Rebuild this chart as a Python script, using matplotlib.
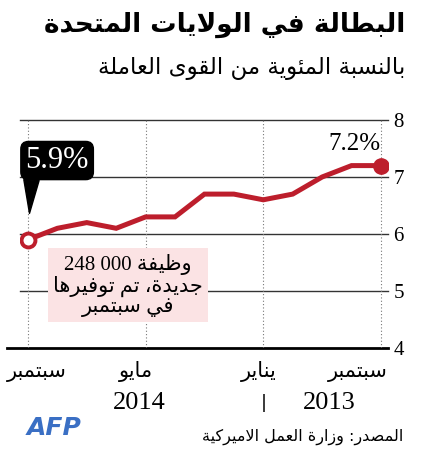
import re
import matplotlib.pyplot as plt

# Données : taux de chômage, de septembre 2013 (0) à septembre 2014 (12)
months = list(range(13))
rate = [7.2, 7.2, 7.0, 6.7, 6.6, 6.7, 6.7, 6.3, 6.3, 6.1, 6.2, 6.1, 5.9]
tick_months = [0, 4, 8, 12]
tick_labels = ['سبتمبر', 'يناير', 'مايو', 'سبتمبر']
y_ticks = [4, 5, 6, 7, 8]
years = ['2013', '2014']

title = 'البطالة في الولايات المتحدة'
subtitle = 'بالنسبة المئوية من القوى العاملة'
note = 'وظيفة 248 000\nجديدة، تم توفيرها\nفي سبتمبر'
source = 'المصدر: وزارة العمل الاميركية'

RED = '#bd1e2c'
PINK = '#fbe3e4'
SERIF = 'Liberation Serif'
MIXED = ['Liberation Serif', 'DejaVu Sans']

# formes contextuelles arabes (Presentation Forms-B)
FOUR = {'ئ': 0xFE89, 'ب': 0xFE8F, 'ت': 0xFE95, 'ث': 0xFE99, 'ج': 0xFE9D,
        'ح': 0xFEA1, 'خ': 0xFEA5, 'س': 0xFEB1, 'ش': 0xFEB5, 'ص': 0xFEB9,
        'ض': 0xFEBD, 'ط': 0xFEC1, 'ظ': 0xFEC5, 'ع': 0xFEC9, 'غ': 0xFECD,
        'ف': 0xFED1, 'ق': 0xFED5, 'ك': 0xFED9, 'ل': 0xFEDD, 'م': 0xFEE1,
        'ن': 0xFEE5, 'ه': 0xFEE9, 'ي': 0xFEF1}
TWO = {'آ': 0xFE81, 'أ': 0xFE83, 'ؤ': 0xFE85, 'إ': 0xFE87, 'ا': 0xFE8D,
       'ة': 0xFE93, 'د': 0xFEA9, 'ذ': 0xFEAB, 'ر': 0xFEAD, 'ز': 0xFEAF,
       'و': 0xFEED, 'ى': 0xFEEF}
LAM_ALEF = {'ا': 0xFEFB, 'أ': 0xFEF7, 'إ': 0xFEF9, 'آ': 0xFEF5}


def shape_line(text):
    toks = []
    i = 0
    while i < len(text):
        if text[i] == 'ل' and i + 1 < len(text) and text[i + 1] in LAM_ALEF:
            toks.append(('LA', text[i + 1]))
            i += 2
        else:
            toks.append(('C', text[i]))
            i += 1

    def dual(t):
        return t[0] == 'C' and t[1] in FOUR

    def letter(t):
        return t[0] == 'LA' or t[1] in FOUR or t[1] in TWO

    out = []
    for k, t in enumerate(toks):
        pj = k > 0 and dual(toks[k - 1]) and letter(t)
        nj = dual(t) and k + 1 < len(toks) and letter(toks[k + 1])
        if t[0] == 'LA':
            out.append(chr(LAM_ALEF[t[1]] + (1 if pj else 0)))
        elif t[1] in FOUR:
            b = FOUR[t[1]]
            out.append(chr(b + (3 if pj and nj else 1 if pj else 2 if nj else 0)))
        elif t[1] in TWO:
            out.append(chr(TWO[t[1]] + (1 if pj else 0)))
        else:
            out.append(t[1])
    runs = re.findall(r'[0-9A-Za-z%.]+(?: [0-9]+)*|.', ''.join(out))
    return ''.join(reversed(runs))


def ar(text):
    return '\n'.join(shape_line(l) for l in text.split('\n'))


fig = plt.figure(figsize=(4.24, 4.5), dpi=100)
ax = fig.add_axes([20 / 424, 1 - 348 / 450, 368 / 424, 228 / 450])
ax.set_xlim(12.27, -0.24)
ax.set_ylim(4, 8)

for v in y_ticks[1:]:
    ax.axhline(v, color='#333333', lw=1, zorder=1, clip_on=False)
ax.axhline(4, xmin=-0.035, xmax=1, color='black', lw=2, zorder=1, clip_on=False)
for m in tick_months:
    ax.axvline(m, color='#777777', lw=0.8, ls=(0, (1, 2)), zorder=1)

for s in ax.spines.values():
    s.set_visible(False)
ax.set_xticks([])
ax.yaxis.tick_right()
ax.set_yticks(y_ticks)
ax.tick_params(axis='y', length=0, pad=4, labelsize=15)
for lab in ax.get_yticklabels():
    lab.set_fontfamily(SERIF)

ax.plot(months, rate, color=RED, lw=3.6, solid_joinstyle='miter', zorder=3)
ax.plot(months[0], rate[0], 'o', ms=11, color=RED, zorder=4)
ax.plot(months[-1], rate[-1], 'o', ms=10, mfc='white', mec=RED, mew=2.8, zorder=4)

ax.annotate('%.1f%%' % rate[0], xy=(months[0], rate[0]), xytext=(0, 11),
            textcoords='offset points', ha='right', va='baseline',
            fontsize=18, family=SERIF)
ax.annotate('%.1f%%' % rate[-1], xy=(months[-1], rate[-1]), xytext=(21, 57),
            textcoords='offset points', ha='center', va='center',
            fontsize=22, family=SERIF, color='white', zorder=5,
            bbox=dict(boxstyle='round,pad=0.15,rounding_size=0.25', fc='black', ec='black'),
            arrowprops=dict(arrowstyle='wedge,tail_width=0.5,shrink_factor=0.5',
                            fc='black', ec='black', relpos=(0.1, 0.0),
                            shrinkA=0, shrinkB=19))

ax.text(8.6, 5.1, ar(note), ha='center', va='center', fontsize=15,
        family=MIXED, linespacing=1.08, zorder=2,
        bbox=dict(boxstyle='square,pad=0.25', fc=PINK, ec='none'))

aligns = ['right', 'center', 'center', 'left']
shifts = [5, -3, -7, -15]
for m, lab, ha, dx in zip(tick_months, tick_labels, aligns, shifts):
    ax.annotate(ar(lab), xy=(m, 0), xycoords=('data', 'axes fraction'),
                xytext=(dx, -17), textcoords='offset points',
                ha=ha, va='center', fontsize=15)

tr = ax.get_xaxis_transform()
ax.text(1.75, -0.24, years[0], transform=tr, ha='center', va='center', fontsize=19, family=SERIF)
ax.text(8.2, -0.24, years[1], transform=tr, ha='center', va='center', fontsize=19, family=SERIF)
ax.text(4, -0.24, '|', transform=tr, ha='center', va='center', fontsize=13, family='DejaVu Sans')

fig.text(405 / 424, 1 - 25 / 450, ar(title), ha='right', va='center',
         fontsize=19, fontweight='bold')
fig.text(405 / 424, 1 - 68 / 450, ar(subtitle), ha='right', va='center', fontsize=16.5)
fig.text(403 / 424, 1 - 437 / 450, ar(source), ha='right', va='center', fontsize=11.5)
fig.text(54 / 424, 1 - 428 / 450, 'AFP', ha='center', va='center', fontsize=18,
         fontweight='bold', style='italic', color='#3a6fc4')

fig.savefig('out.png', dpi=100)
